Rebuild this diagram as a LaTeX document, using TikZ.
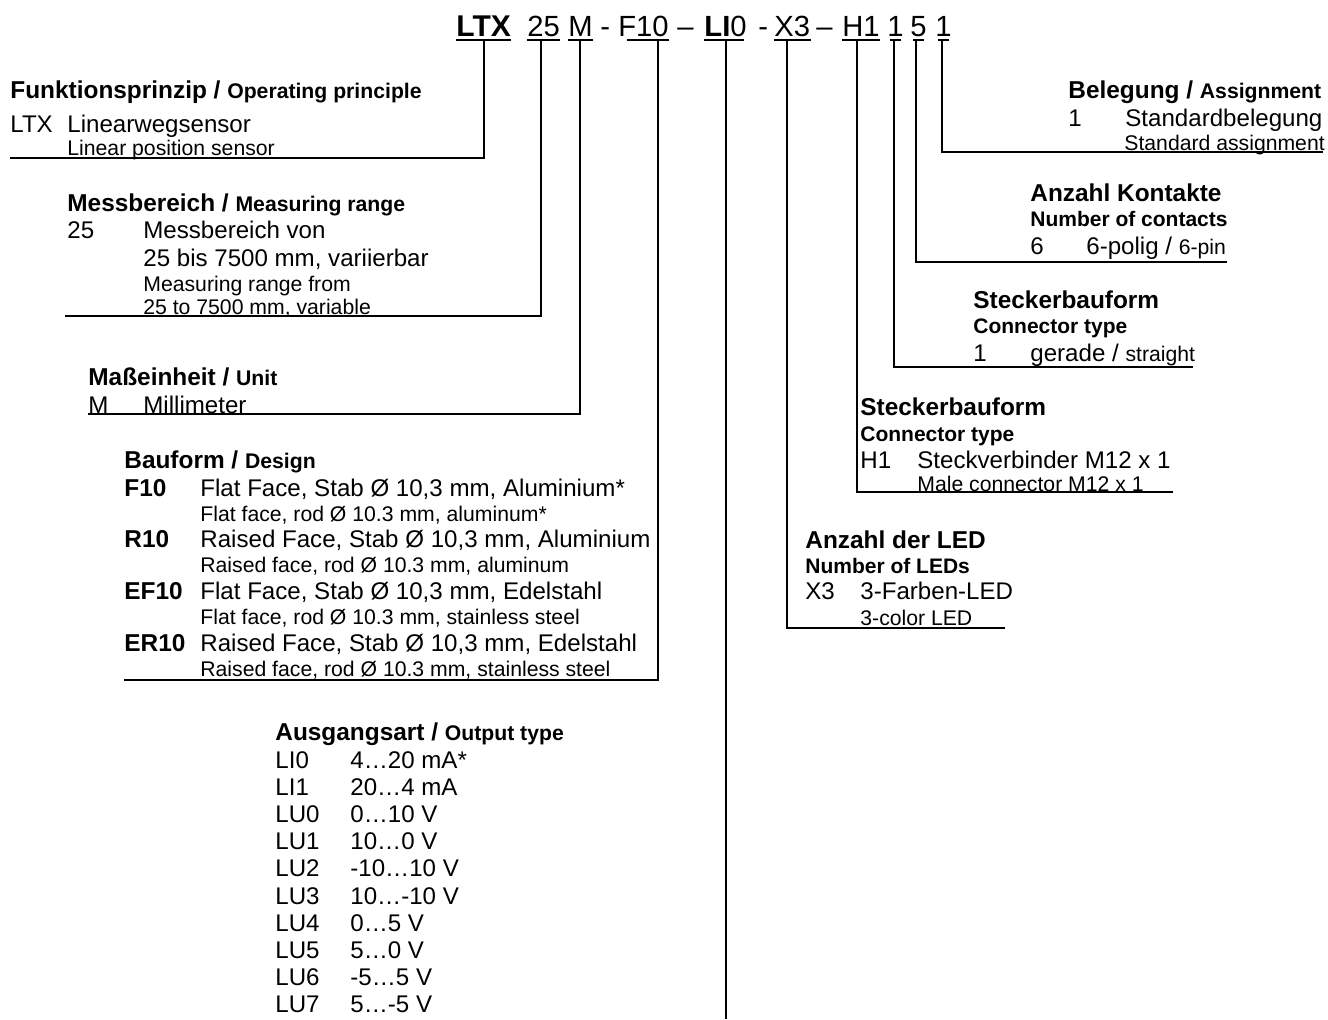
\documentclass[tikz,border=0pt]{standalone}
\usepackage{fontspec}
\setmainfont{Liberation Sans}
\newcommand{\eng}[1]{{\fontsize{10.6}{12}\selectfont #1}}
\tikzset{
  entry/.style={anchor=base west, inner sep=0pt, font=\fontsize{12.05}{14}\selectfont},
  entrysub/.style={entry, font=\fontsize{10.6}{12}\selectfont},
  heading/.style={entry, font=\fontsize{12.2}{14}\selectfont\bfseries},
  headingsub/.style={entry, font=\fontsize{10.5}{12}\selectfont\bfseries},
  part/.style={anchor=base west, inner sep=0pt, font=\fontsize{14.6}{17}\selectfont},
  lead/.style={line width=0.9pt},
  uline/.style={line width=1.2pt},
}
\begin{document}
\begin{tikzpicture}[x=0.5pt,y=-0.5pt]
  \useasboundingbox (0,0) rectangle (1328,1019);
  % type code
  \node[part,font=\fontsize{15}{17}\selectfont\bfseries] (cLTX) at (456,36) {LTX};
  \node[part] (c25) at (527,36) {25};
  \node[part] (cM) at (568,36) {M};
  \node[part] (d1) at (600,36) {-};
  \node[part] (cF10) at (618,36) {F10};
  \node[part] (d2) at (677,36) {--};
  \node[part] (cLI0) at (704,36) {\textbf{LI}0};
  \node[part] (d3) at (758,36) {-};
  \node[part] (cX3) at (774,36) {X3};
  \node[part] (d4) at (816,36) {--};
  \node[part] (cH1) at (842,36) {H1};
  \node[part] (cS1) at (887,36) {1};
  \node[part] (cS5) at (910,36) {5};
  \node[part] (cB1) at (935,36) {1};
  \foreach \n in {cLTX,c25,cM,cX3,cH1}
    \draw[uline] ([yshift=-2pt]\n.base west) -- ([yshift=-2pt]\n.base east);
  \foreach \n in {cS1,cS5,cB1}
    \draw[uline,shorten <=1.5pt,shorten >=1.5pt] ([yshift=-2pt]\n.base west) -- ([yshift=-2pt]\n.base east);
  \draw[uline] ([xshift=4.5pt,yshift=-2pt]cF10.base west) -- ([yshift=-2pt]cF10.base east);
  \draw[uline] ([yshift=-2pt]cLI0.base west) -- ([xshift=-1.5pt,yshift=-2pt]cLI0.base east);
  \coordinate (tLTX) at (484,40);
  \coordinate (t25) at (541,40);
  \coordinate (tM) at (580,40);
  \coordinate (tF10) at (658,40);
  \coordinate (tLI0) at (726,40);
  \coordinate (tX3) at (787,40);
  \coordinate (tH1) at (857,40);
  \coordinate (tS1) at (894,40);
  \coordinate (tS5) at (916,40);
  \coordinate (tB1) at (942,40);

  % Funktionsprinzip
  \node[heading] (fpHead) at (10,98) {Funktionsprinzip / \eng{Operating principle}};
  \node[entry] (fpCode) at (10,132) {LTX};
  \node[entry] (fpDe) at (67,132) {Linearwegsensor};
  \node[entrysub] (fpEn) at (67,155) {Linear position sensor};
  \coordinate (fpEnd) at (10,158);
  \draw[lead] (tLTX) |- (fpEnd);

  % Messbereich
  \node[heading] (mbHead) at (67,211) {Messbereich / \eng{Measuring range}};
  \node[entry] (mbCode) at (67,238) {25};
  \node[entry] (mbDe1) at (143,238) {Messbereich von};
  \node[entry] (mbDe2) at (143,266) {25 bis 7500 mm, variierbar};
  \node[entrysub] (mbEn1) at (143,291) {Measuring range from};
  \node[entrysub] (mbEn2) at (143,314) {25 to 7500 mm, variable};
  \coordinate (mbEnd) at (65,316);
  \draw[lead] (t25) |- (mbEnd);

  % Masseinheit
  \node[heading] (meHead) at (88,385) {Maßeinheit / \eng{Unit}};
  \node[entry] (meCode) at (88,413) {M};
  \node[entry] (meDe) at (143,413) {Millimeter};
  \coordinate (meEnd) at (88,414);
  \draw[lead] (tM) |- (meEnd);

  % Bauform
  \node[heading] (bfHead) at (124,468) {Bauform / \eng{Design}};
  \foreach \c/\de/\en [count=\i] in {%
      F10/{Flat Face, Stab Ø 10,3 mm, Aluminium*}/{Flat face, rod Ø 10.3 mm, aluminum*},%
      R10/{Raised Face, Stab Ø 10,3 mm, Aluminium}/{Raised face, rod Ø 10.3 mm, aluminum},%
      EF10/{Flat Face, Stab Ø 10,3 mm, Edelstahl}/{Flat face, rod Ø 10.3 mm, stainless steel},%
      ER10/{Raised Face, Stab Ø 10,3 mm, Edelstahl}/{Raised face, rod Ø 10.3 mm, stainless steel}} {
    \node[heading] (bfCode\i) at (124,{444.3+51.7*\i}) {\c};
    \node[entry] (bfDe\i) at (200,{444.3+51.7*\i}) {\de};
    \node[entrysub] (bfEn\i) at (200,{469.3+51.7*\i}) {\en};
  }
  \coordinate (bfEnd) at (124,680);
  \draw[lead] (tF10) |- (bfEnd);

  % Ausgangsart
  \node[heading] (oaHead) at (275,740) {Ausgangsart / \eng{Output type}};
  \foreach \c/\v [count=\i] in {LI0/4…20 mA*, LI1/20…4 mA, LU0/0…10 V,
      LU1/10…0 V, LU2/-10…10 V, LU3/10…-10 V, LU4/0…5 V, LU5/5…0 V,
      LU6/-5…5 V, LU7/5…-5 V} {
    \node[entry] (oaCode\i) at (275,{740.8+27.2*\i}) {\c};
    \node[entry] (oaVal\i) at (350,{740.8+27.2*\i}) {\v};
  }
  \coordinate (oaEnd) at (726,1019);
  \draw[lead] (tLI0) -- (oaEnd);

  % Belegung
  \node[heading] (beHead) at (1068,98) {Belegung / \eng{Assignment}};
  \node[entry] (beCode) at (1068,126) {1};
  \node[entry] (beDe) at (1125,126) {Standardbelegung};
  \node[entrysub] (beEn) at (1124,150) {Standard assignment};
  \coordinate (beEnd) at (1323,152);
  \draw[lead] (tB1) |- (beEnd);

  % Anzahl Kontakte
  \node[heading] (akHead) at (1030,201) {Anzahl Kontakte};
  \node[headingsub] (akHeadEn) at (1030,226) {Number of contacts};
  \node[entry] (akCode) at (1030,254) {6};
  \node[entry] (akDe) at (1086,254) {6-polig / \eng{6-pin}};
  \coordinate (akEnd) at (1227,262);
  \draw[lead] (tS5) |- (akEnd);

  % Steckerbauform (gerade)
  \node[heading] (sbHead) at (973,308) {Steckerbauform};
  \node[headingsub] (sbHeadEn) at (973,333) {Connector type};
  \node[entry] (sbCode) at (973,361) {1};
  \node[entry] (sbDe) at (1030,361) {gerade / \eng{straight}};
  \coordinate (sbEnd) at (1193,367);
  \draw[lead] (tS1) |- (sbEnd);

  % Steckerbauform (M12)
  \node[heading] (svHead) at (860,415) {Steckerbauform};
  \node[headingsub] (svHeadEn) at (860,441) {Connector type};
  \node[entry] (svCode) at (860,468) {H1};
  \node[entry] (svDe) at (917,468) {Steckverbinder M12 x 1};
  \node[entrysub] (svEn) at (917,491) {Male connector M12 x 1};
  \coordinate (svEnd) at (1173,492);
  \draw[lead] (tH1) |- (svEnd);

  % Anzahl der LED
  \node[heading] (ledHead) at (805,548) {Anzahl der LED};
  \node[headingsub] (ledHeadEn) at (805,573) {Number of LEDs};
  \node[entry] (ledCode) at (805,599) {X3};
  \node[entry] (ledDe) at (860,599) {3-Farben-LED};
  \node[entrysub] (ledEn) at (860,625) {3-color LED};
  \coordinate (ledEnd) at (1005,628);
  \draw[lead] (tX3) |- (ledEnd);
\end{tikzpicture}
\end{document}
